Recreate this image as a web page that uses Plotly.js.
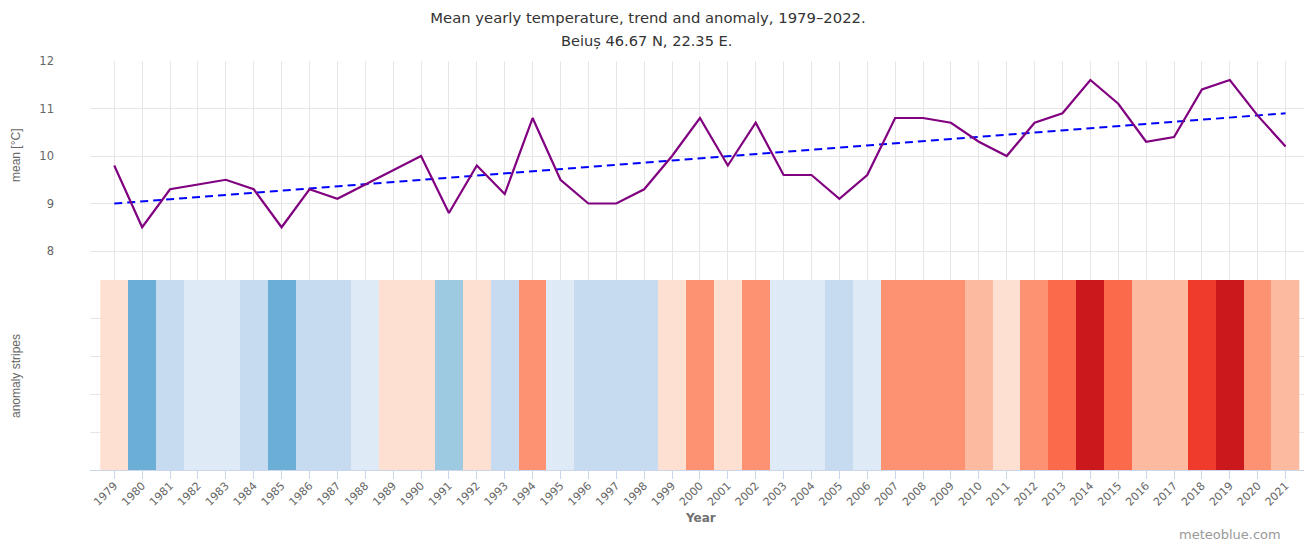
<!DOCTYPE html>
<html>
<head>
<meta charset="utf-8">
<script src="https://cdn.plot.ly/plotly-3.0.1.min.js"></script>
<style>
  html, body { margin: 0; padding: 0; background: #ffffff; }
  #chart { width: 1304px; height: 544px; }
</style>
</head>
<body>
<div id="chart"></div>
<script>
// ---- data ----
const years = [1979,1980,1981,1982,1983,1984,1985,1986,1987,1988,1989,1990,1991,1992,1993,1994,1995,1996,1997,1998,1999,2000,2001,2002,2003,2004,2005,2006,2007,2008,2009,2010,2011,2012,2013,2014,2015,2016,2017,2018,2019,2020,2021];
const meanTemp = [9.8,8.5,9.3,9.4,9.5,9.3,8.5,9.3,9.1,9.4,9.7,10.0,8.8,9.8,9.2,10.8,9.5,9.0,9.0,9.3,10.0,10.8,9.8,10.7,9.6,9.6,9.1,9.6,10.8,10.8,10.7,10.3,10.0,10.7,10.9,11.6,11.1,10.3,10.4,11.4,11.6,10.85,10.2];
const trendYears = [1979, 2021];
const trendValues = [9.0, 10.9];
const yTicks = [8, 9, 10, 11, 12];
const tickLabels = years.map(String);

// stripe colour classes (temperature bin edges and colours)
const binEdges = [8.4, 8.65, 8.9, 9.35, 9.65, 10.15, 10.55, 10.87, 11.25, 11.5, 11.7];
const binColors = ['#6baed6','#9ecae1','#c6dbef','#deebf7','#fee0d2','#fcbba1','#fc9272','#fb6a4a','#ef3b2c','#cb181d'];

// build stepped colorscale
const zmin = binEdges[0], zmax = binEdges[binEdges.length - 1];
const colorscale = [];
for (let i = 0; i < binColors.length; i++) {
  const s = (binEdges[i] - zmin) / (zmax - zmin);
  const e = (binEdges[i + 1] - zmin) / (zmax - zmin);
  colorscale.push([s, binColors[i]]);
  colorscale.push([e, binColors[i]]);
}

const W = 1304, H = 544;
const L = 90, R = 0, T = 61, B = 74;
const plotW = W - L - R, plotH = H - T - B;
const px2paperX = x => (x - L) / plotW;
const px2paperY = y => (H - B - y) / plotH;
const split = (H - B - 280) / plotH;

const tickFont = { family: 'DejaVu Sans, sans-serif', size: 11.5, color: '#666666' };

const traces = [
  {
    type: 'heatmap',
    x: years,
    y: [0, 5],
    z: [meanTemp],
    zmin: zmin, zmax: zmax,
    colorscale: colorscale,
    showscale: false,
    xaxis: 'x', yaxis: 'y2',
    hoverinfo: 'x+z'
  },
  {
    type: 'scatter', mode: 'lines',
    x: trendYears, y: trendValues,
    line: { color: '#0000ff', width: 2, dash: '8px,5px' },
    xaxis: 'x', yaxis: 'y',
    showlegend: false, name: 'trend'
  },
  {
    type: 'scatter', mode: 'lines',
    x: years, y: meanTemp,
    line: { color: '#800080', width: 2.2 },
    xaxis: 'x', yaxis: 'y',
    showlegend: false, name: 'mean'
  }
];

const layout = {
  width: W, height: H,
  margin: { l: L, r: R, t: T, b: B, pad: 0 },
  paper_bgcolor: '#ffffff', plot_bgcolor: '#ffffff',
  showlegend: false,
  title: {
    text: 'Mean yearly temperature, trend and anomaly, 1979–2022.',
    x: 648 / W, xref: 'container', xanchor: 'center',
    y: 1 - 18 / H, yref: 'container', yanchor: 'middle',
    font: { family: 'DejaVu Sans, sans-serif', size: 14.8, color: '#333333' }
  },
  xaxis: {
    anchor: 'y2',
    range: [1978.13, 2021.66],
    tickmode: 'array', tickvals: years, ticktext: tickLabels,
    tickangle: -45,
    tickfont: { family: 'DejaVu Sans, sans-serif', size: 11, color: '#666666' },
    ticklabelstandoff: -4,
    ticks: 'outside', ticklen: 8, tickcolor: '#ccd6eb', tickwidth: 1,
    showline: true, linecolor: '#ccd6eb', linewidth: 1,
    showgrid: true, gridcolor: '#e6e6e6', gridwidth: 1,
    zeroline: false, fixedrange: true
  },
  yaxis: {
    domain: [split, 1],
    range: [7.39, 12],
    tickmode: 'array', tickvals: yTicks, ticktext: yTicks.map(String),
    tickfont: tickFont,
    ticklabelstandoff: 35,
    showgrid: true, gridcolor: '#e6e6e6', gridwidth: 1,
    zeroline: false, showline: false, ticks: '', fixedrange: true
  },
  yaxis2: {
    domain: [0, split],
    range: [0, 5],
    dtick: 1, tick0: 0,
    showticklabels: false,
    showgrid: true, gridcolor: '#e6e6e6', gridwidth: 1,
    zeroline: false, showline: false, ticks: '', fixedrange: true
  },
  annotations: [
    {
      text: 'Beiuș 46.67 N, 22.35 E.',
      xref: 'paper', yref: 'paper',
      x: px2paperX(646), y: px2paperY(41),
      xanchor: 'center', yanchor: 'middle', showarrow: false,
      font: { family: 'DejaVu Sans, sans-serif', size: 14.6, color: '#333333' }
    },
    {
      text: 'mean [°C]',
      xref: 'paper', yref: 'paper',
      x: px2paperX(16), y: px2paperY(156),
      xanchor: 'center', yanchor: 'middle', textangle: -90, showarrow: false,
      font: { family: 'Liberation Sans, Arial, sans-serif', size: 12, color: '#666666' }
    },
    {
      text: 'anomaly stripes',
      xref: 'paper', yref: 'paper',
      x: px2paperX(16), y: px2paperY(376),
      xanchor: 'center', yanchor: 'middle', textangle: -90, showarrow: false,
      font: { family: 'Liberation Sans, Arial, sans-serif', size: 12, color: '#666666' }
    },
    {
      text: '<b>Year</b>',
      xref: 'paper', yref: 'paper',
      x: px2paperX(700), y: px2paperY(518),
      xanchor: 'center', yanchor: 'middle', showarrow: false,
      font: { family: 'DejaVu Sans, sans-serif', size: 12, color: '#707070' }
    },
    {
      text: 'meteoblue.com',
      xref: 'paper', yref: 'paper',
      x: px2paperX(1283), y: px2paperY(534),
      xanchor: 'right', yanchor: 'middle', showarrow: false,
      font: { family: 'DejaVu Sans, sans-serif', size: 13, color: '#999999' }
    }
  ]
};

Plotly.newPlot('chart', traces, layout, { displayModeBar: false, staticPlot: true });
</script>
</body>
</html>
